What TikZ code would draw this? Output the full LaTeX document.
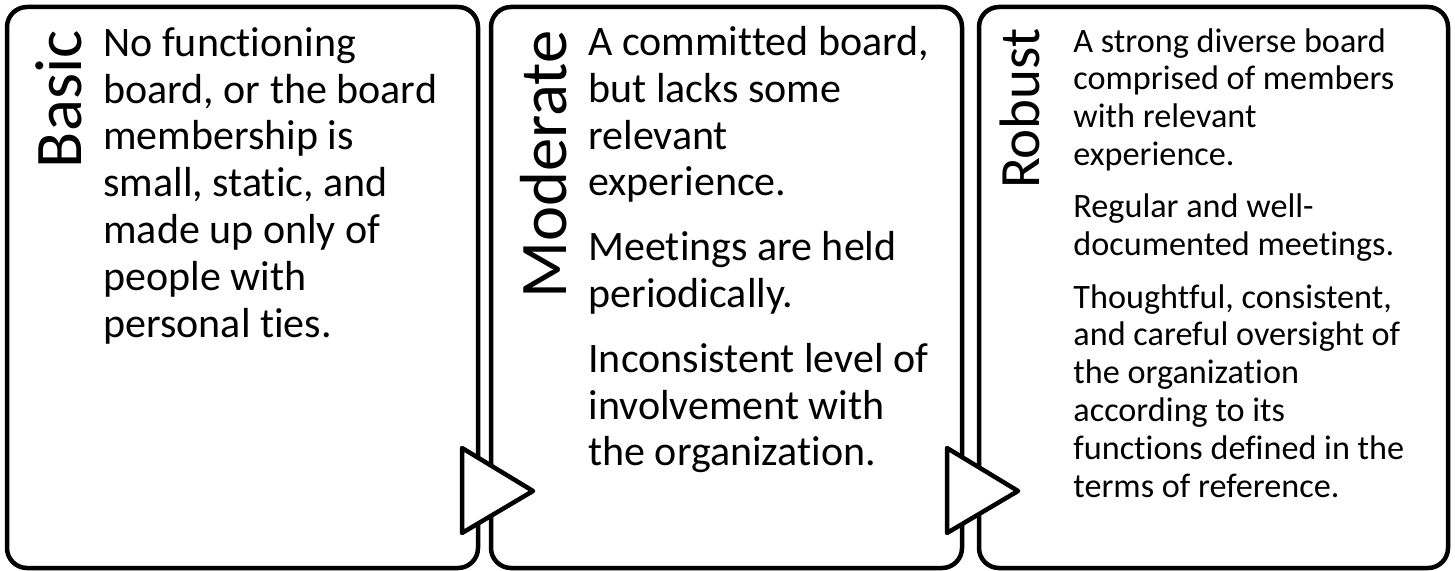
\documentclass[tikz,border=0pt]{standalone}
\usepackage{fontspec}
\setmainfont{Carlito}[Ligatures=NoCommon]
\begin{document}
\begin{tikzpicture}[x=0.5pt,y=-0.5pt,
        stage/.style={draw,line width=2.25pt,rounded corners=10pt,minimum height=280.5pt,inner sep=0pt,outer sep=0pt},
        level/.style={rotate=90,anchor=base east,inner sep=0pt,font=\fontsize{33.3}{40}\selectfont},
        points/.style={anchor=north west,align=left,inner sep=0pt,font=\fontsize{21}{23.4}\selectfont},
        flowtip/.style={draw,line width=2.25pt,fill=white,line join=round}]
        \useasboundingbox (0,0) rectangle (1455,571);
        %% stages
        \node[stage,minimum width=235.5pt] (basic) at (242.5,287.5) {};
        \node[stage,minimum width=235.5pt] (moderate) at (726.5,287.5) {};
        \node[stage,minimum width=234.5pt] (robust) at (1213.5,287.5) {};
        %% basic
        \node[level] (lbasic) at (81,30) {Basic};
        \node[points] (tbasic) at (103,27) {No functioning\\board, or the board\\membership is\\small, static, and\\made up only of\\people with\\personal ties.};
        %% moderate
        \node[level] (lmoderate) at (566,30) {Moderate};
        \node[points] (tmoderate) at (588,26) {A committed board,\\but lacks some\\relevant\\experience.\\[9pt]Meetings are held\\periodically.\\[9pt]Inconsistent level of\\involvement with\\the organization.};
        %% robust
        \node[level,font=\fontsize{28.5}{34}\selectfont] (lrobust) at (1039,28) {Robust};
        \node[points,font=\fontsize{17.1}{18.9}\selectfont] (trobust) at (1073,28) {A strong diverse board\\comprised of members\\with relevant\\experience.\\[7.3pt]Regular and well-\\documented meetings.\\[7.3pt]Thoughtful, consistent,\\and careful oversight of\\the organization\\according to its\\functions defined in the\\terms of reference.};
        %% arrows between stages
        \draw[flowtip] (462,448) -- (533,491) -- (462,533) -- cycle;
        \draw[flowtip] (947,448) -- (1018,491) -- (947,533) -- cycle;
    \end{tikzpicture}
\end{document}
